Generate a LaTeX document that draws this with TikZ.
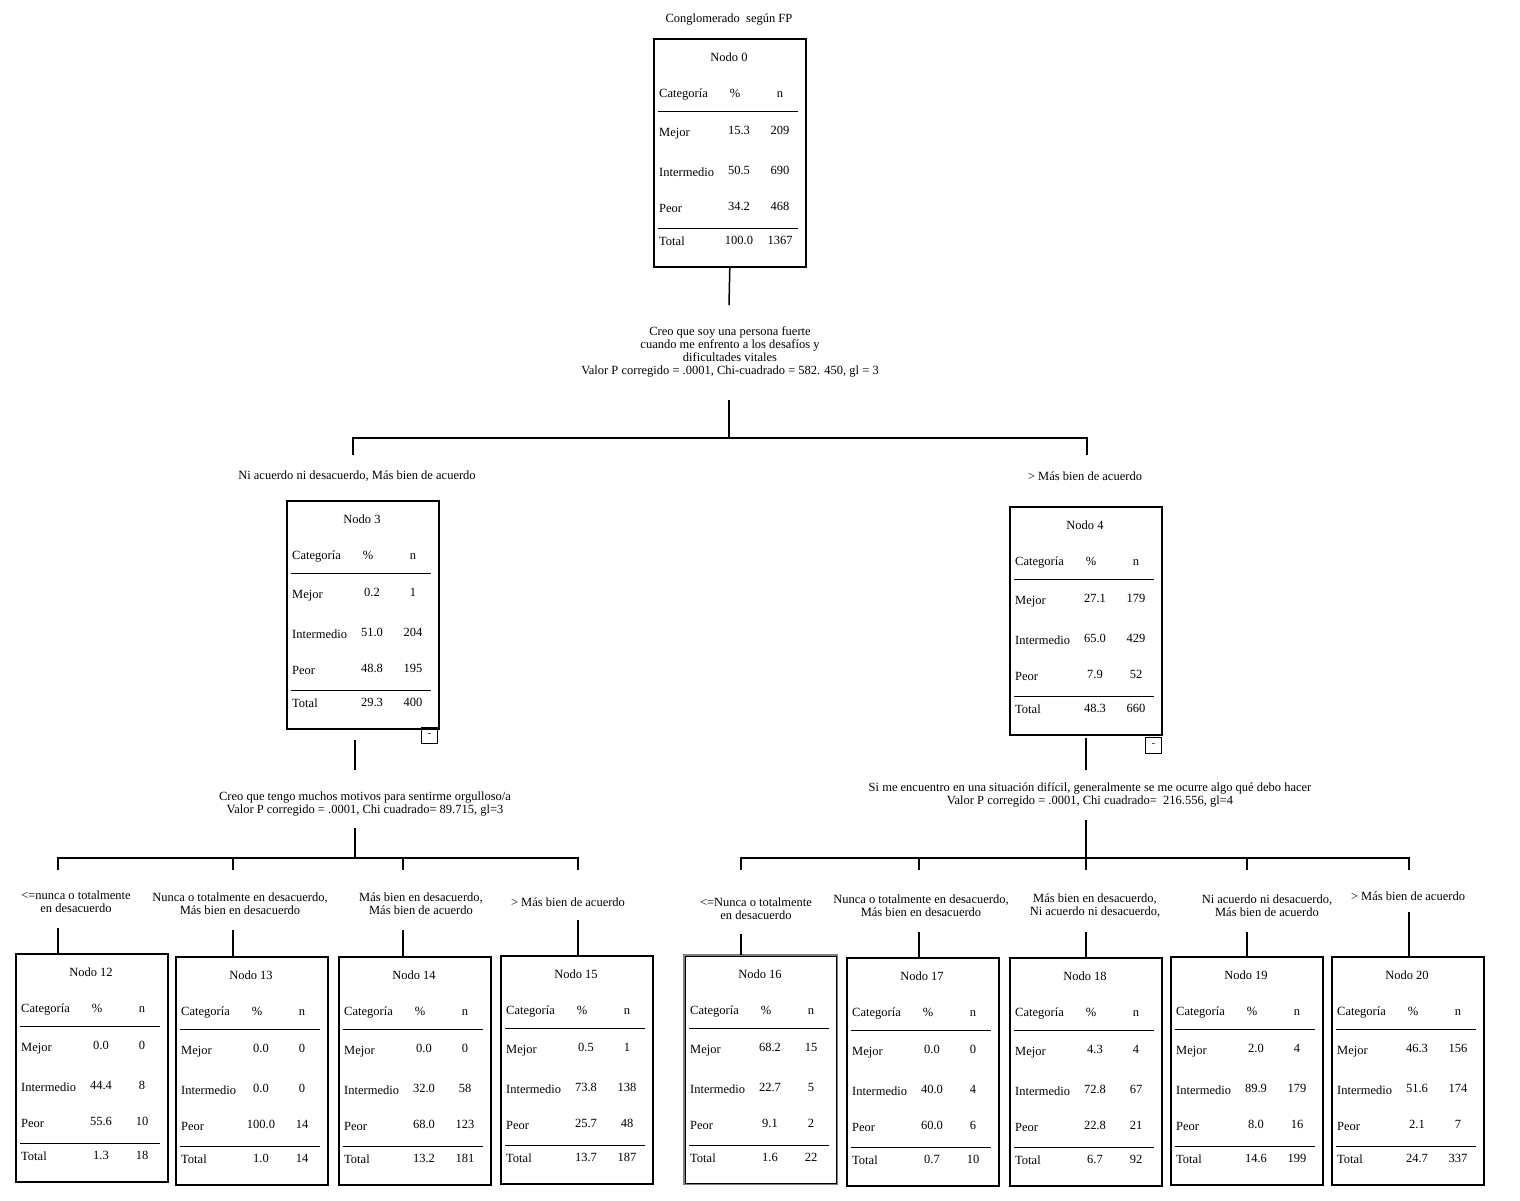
\documentclass[tikz,border=0pt]{standalone}
\usepackage{fontspec}
\setmainfont{Liberation Serif}
\begin{document}
\begin{tikzpicture}[x=1pt,y=-1pt,
  box/.style={draw,line width=1.6pt,minimum width=152pt,minimum height=228pt,inner sep=0pt},
  t/.style={inner sep=0pt,font=\fontsize{12.5}{14}\selectfont},
  ln/.style={line width=1.5pt},
  every node/.style={t}]
\useasboundingbox (0,0) rectangle (1520,1200);
\newcommand\tbox[9]{%
 \node[box,anchor=north west] (#1) at (#2,#3) {};
 \node at (#2+76,#3+19) {Nodo #4};
 \node[anchor=west] at (#2+6,#3+56) {Categoría};
 \node at (#2+82,#3+55) {\%};
 \node at (#2+127,#3+57) {n};
 \draw[line width=1pt] (#2+5,#3+73) -- (#2+145,#3+73);
 \node[anchor=west] at (#2+6,#3+96) {Mejor};
 \node[anchor=west] at (#2+6,#3+134) {Intermedio};
 \node[anchor=west] at (#2+6,#3+170) {Peor};
 \node at (#2+86,#3+92) {#5};\node at (#2+127,#3+92) {#6};
 \node at (#2+86,#3+132) {#7};\node at (#2+127,#3+132) {#8};
 \node at (#2+86,#3+168) {#9};
 \draw[line width=1pt] (#2+5,#3+190) -- (#2+145,#3+190);
 \node[anchor=west] at (#2+6,#3+203) {Total};}
\newcommand\ttot[5]{%
 \node at (#1+127,#2+168) {#3};
 \node at (#1+86,#2+202) {#4};\node at (#1+127,#2+202) {#5};}
\newcommand\minus[2]{\node[draw,line width=1pt,minimum size=16pt,anchor=north east,font=\fontsize{10}{10}\selectfont] at (#1,#2) {-};}

% Node 0
\node at (729,20) {Conglomerado\ \ según FP};
\tbox{n0}{653}{38}{0}{15.3}{209}{50.5}{690}{34.2}\ttot{653}{38}{468}{100.0}{1367}
\coordinate (a0) at (729,305);
\draw[ln] (n0.south) -- (a0);
\node[align=center] (l0) at (730,352) {Creo que soy una persona fuerte\\[-1pt]cuando me enfrento a los desafíos y\\[-1pt]dificultades vitales\\[-1pt]Valor P corregido = .0001, Chi-cuadrado = 582. 450, gl = 3};
\coordinate (b0) at (729,400);\coordinate (h0) at (729,438);
\coordinate (hl) at (353,438);\coordinate (hr) at (1087,438);
\coordinate (dl) at (353,455);\coordinate (dr) at (1087,455);
\draw[ln] (b0) -- (h0);
\draw[ln] (dl) -- (hl) -- (hr) -- (dr);
\node at (357,476) {Ni acuerdo ni desacuerdo, Más bien de acuerdo};
\node at (1085,476) {> Más bien de acuerdo};

% Node 3
\tbox{n3}{286}{500}{3}{0.2}{1}{51.0}{204}{48.8}\ttot{286}{500}{195}{29.3}{400}
\minus{438}{727}
\coordinate (c3) at (355,740);\coordinate (d3) at (355,770);
\draw[ln] (c3) -- (d3);
\node[align=center] at (365,804) {Creo que tengo muchos motivos para sentirme orgulloso/a\\[-1pt]Valor P corregido = .0001, Chi cuadrado= 89.715, gl=3};
\coordinate (e3) at (355,828);\coordinate (f3) at (355,858);
\draw[ln] (e3) -- (f3);
\draw[ln] (58,870) -- (58,858) -- (578,858) -- (578,870);
\draw[ln] (233,858) -- (233,870);\draw[ln] (403,858) -- (403,870);

% Node 4
\tbox{n4}{1009}{506}{4}{27.1}{179}{65.0}{429}{7.9}\ttot{1009}{506}{52}{48.3}{660}
\minus{1162}{737}
\coordinate (c4) at (1086,738);\coordinate (d4) at (1086,770);
\draw[ln] (c4) -- (d4);
\node[align=center] at (1090,795) {Si me encuentro en una situación difícil, generalmente se me ocurre algo qué debo hacer\\[-1pt]Valor P corregido = .0001, Chi cuadrado=\ \ 216.556, gl=4};
\coordinate (e4) at (1086,820);\coordinate (f4) at (1086,858);
\draw[ln] (e4) -- (f4);
\draw[ln] (741,870) -- (741,858) -- (1409,858) -- (1409,870);
\foreach \x in {919,1086,1247} \draw[ln] (\x,858) -- (\x,870);

% bottom left labels
\node[align=center] at (76,902) {<=nunca o totalmente\\[-1pt]en desacuerdo};
\node[align=center] at (240,904) {Nunca o totalmente en desacuerdo,\\[-1pt]Más bien en desacuerdo};
\node[align=center] at (421,904) {Más bien en desacuerdo,\\[-1pt]Más bien de acuerdo};
\node at (568,902) {> Más bien de acuerdo};
\node[align=center] at (756,909) {<=Nunca o totalmente\\[-1pt]en desacuerdo};
\node[align=center] at (921,906) {Nunca o totalmente en desacuerdo,\\[-1pt]Más bien en desacuerdo};
\node[align=center] at (1095,906) {Más bien en desacuerdo,\\[-1pt]Ni acuerdo ni desacuerdo,};
\node[align=center] at (1267,906) {Ni acuerdo ni desacuerdo,\\[-1pt]Más bien de acuerdo};
\node at (1408,896) {> Más bien de acuerdo};

% bottom boxes
\tbox{n12}{15}{953}{12}{0.0}{0}{44.4}{8}{55.6}\ttot{15}{953}{10}{1.3}{18}
\tbox{n13}{175}{956}{13}{0.0}{0}{0.0}{0}{100.0}\ttot{175}{956}{14}{1.0}{14}
\tbox{n14}{338}{956}{14}{0.0}{0}{32.0}{58}{68.0}\ttot{338}{956}{123}{13.2}{181}
\tbox{n15}{500}{955}{15}{0.5}{1}{73.8}{138}{25.7}\ttot{500}{955}{48}{13.7}{187}
\tbox{n16}{684}{955}{16}{68.2}{15}{22.7}{5}{9.1}\ttot{684}{955}{2}{1.6}{22}
\tbox{n17}{846}{957}{17}{0.0}{0}{40.0}{4}{60.0}\ttot{846}{957}{6}{0.7}{10}
\tbox{n18}{1009}{957}{18}{4.3}{4}{72.8}{67}{22.8}\ttot{1009}{957}{21}{6.7}{92}
\tbox{n19}{1170}{956}{19}{2.0}{4}{89.9}{179}{8.0}\ttot{1170}{956}{16}{14.6}{199}
\tbox{n20}{1331}{956}{20}{46.3}{156}{51.6}{174}{2.1}\ttot{1331}{956}{7}{24.7}{337}
\draw[draw=gray,line width=1.6pt] (n16.north west) rectangle (n16.south east);

\foreach \n/\x/\y in {n12/58/928,n13/233/930,n14/403/930,n15/578/920,n16/741/934,n17/919/932,n18/1086/932,n19/1247/932,n20/1409/912}{
  \coordinate (s\n) at (\x,\y);
  \draw[ln] (s\n) -- (\x,0|-\n.north);
}
\end{tikzpicture}
\end{document}
